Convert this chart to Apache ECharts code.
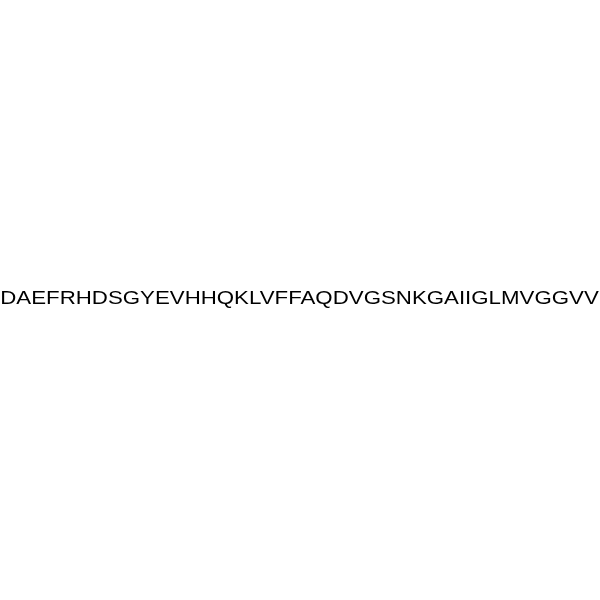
<!DOCTYPE html>
<html>
<head>
<meta charset="utf-8">
<script src="https://cdn.jsdelivr.net/npm/echarts@6/dist/echarts.min.js"></script>
<style>
html, body { margin: 0; padding: 0; background: #fff; }
#main { width: 600px; height: 600px; }
</style>
</head>
<body>
<div id="main"></div>
<script>
// peptide sequence, one residue per entry
var residues = ['D','A','E','F','R','H','D','S','G','Y','E','V','H','H','Q','K','L','V','F','F',
	'A','Q','D','V','G','S','N','K','G','A','I','I','G','L','M','V','G','G','V','V'];

var chart = echarts.init(document.getElementById('main'));

var option = {
	backgroundColor: '#ffffff',
	graphic: [{
		type: 'text',
		x: 299.5,
		y: 298.5,
		scaleX: 1.172,
		style: {
			text: residues.join(''),
			fill: '#000000',
			font: '19px "Liberation Sans", Arial, sans-serif',
			align: 'center',
			verticalAlign: 'middle'
		}
	}]
};

chart.setOption(option);
</script>
</body>
</html>
